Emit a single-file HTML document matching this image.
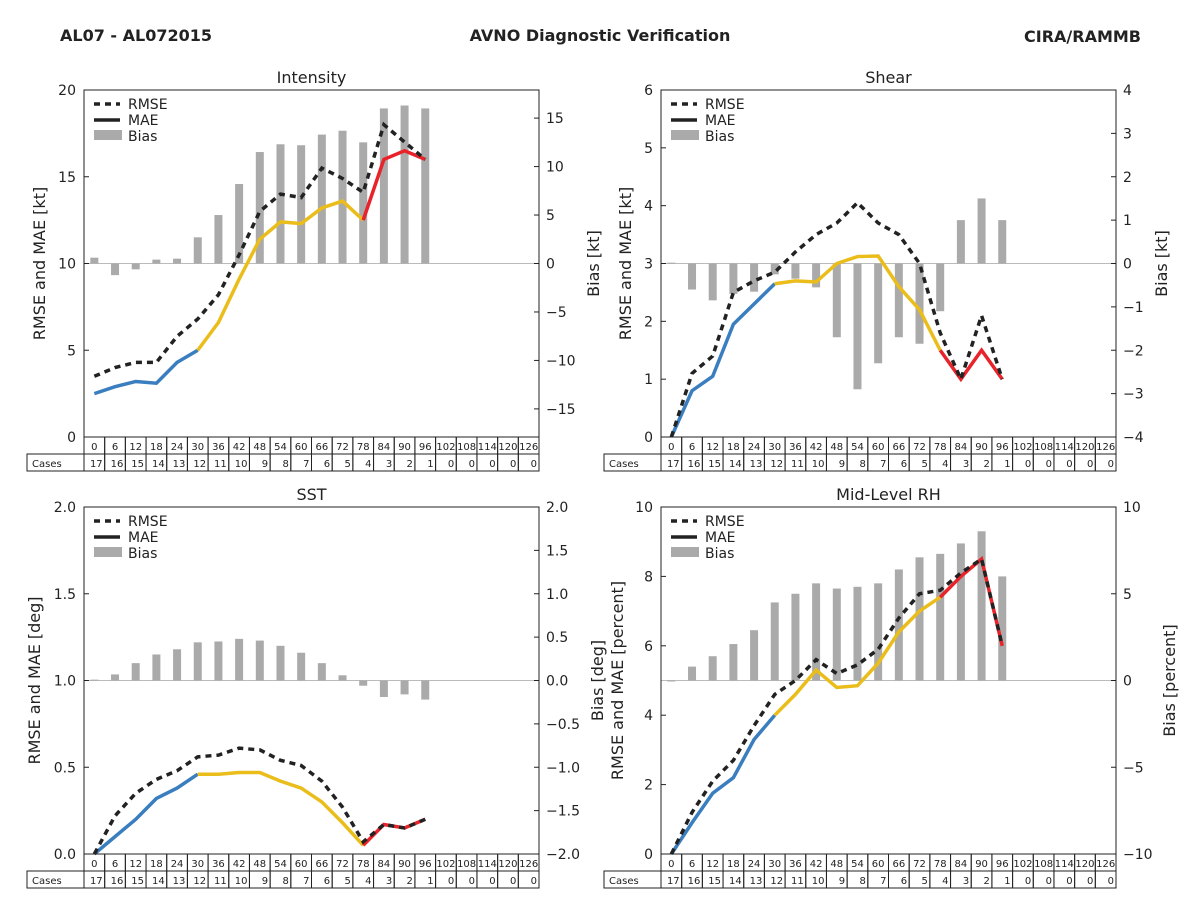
<!DOCTYPE html>
<html><head><meta charset="utf-8"><style>
body{margin:0;background:#fff}
svg{font-family:"DejaVu Sans","Liberation Sans",sans-serif}
</style></head><body>
<svg id="c" width="1200" height="900" viewBox="0 0 1200 900">
<text x="60" y="41" font-size="16" font-weight="bold" fill="#222">AL07 - AL072015</text>
<text x="600" y="41" font-size="16" font-weight="bold" fill="#222" text-anchor="middle">AVNO Diagnostic Verification</text>
<text x="1141" y="42" font-size="16" font-weight="bold" fill="#222" text-anchor="end">CIRA/RAMMB</text>
</svg>
<script>
const hours=[0,6,12,18,24,30,36,42,48,54,60,66,72,78,84,90,96,102,108,114,120,126];
const cases=[17,16,15,14,13,12,11,10,9,8,7,6,5,4,3,2,1,0,0,0,0,0];
const intRmse=[3.5,4.0,4.3,4.3,5.8,6.8,8.2,10.5,13,14,13.8,15.5,14.9,14.1,18,17,16];
const intMae=[2.5,2.9,3.2,3.1,4.3,5.0,6.6,9.1,11.4,12.4,12.3,13.2,13.6,12.5,16,16.5,16];
const intBias=[0.6,-1.2,-0.6,0.4,0.5,2.7,5,8.2,11.5,12.3,12.2,13.3,13.7,12.5,16,16.3,16];
const shRmse=[0,1.1,1.4,2.5,2.7,2.85,3.2,3.5,3.7,4.05,3.7,3.5,3.0,1.8,1.0,2.1,1.0];
const shMae=[0,0.8,1.05,1.95,2.3,2.65,2.7,2.68,3.0,3.12,3.13,2.6,2.2,1.5,1.0,1.5,1.0];
const shBias=[0.02,-0.6,-0.85,-0.7,-0.65,-0.25,-0.35,-0.55,-1.7,-2.9,-2.3,-1.7,-1.85,-1.1,1.0,1.5,1.0];
const sstRmse=[0,0.22,0.35,0.43,0.48,0.56,0.57,0.61,0.60,0.54,0.51,0.42,0.27,0.07,0.17,0.15,0.2];
const sstMae=[0,0.1,0.2,0.32,0.38,0.46,0.46,0.47,0.47,0.42,0.38,0.3,0.18,0.05,0.17,0.15,0.2];
const sstBias=[0.01,0.07,0.2,0.3,0.36,0.44,0.45,0.48,0.46,0.40,0.32,0.2,0.06,-0.06,-0.19,-0.16,-0.22];
const rhRmse=[0,1.2,2.1,2.7,3.7,4.6,5.0,5.6,5.2,5.45,5.9,6.8,7.5,7.6,8.1,8.5,6.0];
const rhMae=[0,0.9,1.75,2.2,3.3,4.0,4.6,5.3,4.8,4.85,5.5,6.4,7.0,7.4,8.0,8.5,6.0];
const rhBias=[0,0.8,1.4,2.1,2.9,4.5,5.0,5.6,5.3,5.4,5.6,6.4,7.1,7.3,7.9,8.6,6.0];
const svg=document.getElementById('c');const NS='http://www.w3.org/2000/svg';
function mk(t,a,p){const e=document.createElementNS(NS,t);for(const k in a)e.setAttribute(k,a[k]);(p||svg).appendChild(e);return e;}
const panels=[
 {t:'Intensity',x0:84,y0:90,lmax:20,lt:[0,5,10,15,20],rmin:-17.9,rmax:17.9,rt:[-15,-10,-5,0,5,10,15],ll:'RMSE and MAE [kt]',rl:'Bias [kt]',r:intRmse,m:intMae,b:intBias,llx:40,rlx:594},
 {t:'Shear',x0:661,y0:90,lmax:6,lt:[0,1,2,3,4,5,6],rmin:-4,rmax:4,rt:[-4,-3,-2,-1,0,1,2,3,4],ll:'RMSE and MAE [kt]',rl:'Bias [kt]',r:shRmse,m:shMae,b:shBias,llx:626,rlx:1162},
 {t:'SST',x0:84,y0:507,lmax:2,lt:[0,0.5,1,1.5,2],rmin:-2,rmax:2,rt:[-2,-1.5,-1,-0.5,0,0.5,1,1.5,2],ll:'RMSE and MAE [deg]',rl:'Bias [deg]',r:sstRmse,m:sstMae,b:sstBias,llx:35,rlx:598,fmt:1},
 {t:'Mid-Level RH',x0:661,y0:507,lmax:10,lt:[0,2,4,6,8,10],rmin:-10,rmax:10,rt:[-10,-5,0,5,10],ll:'RMSE and MAE [percent]',rl:'Bias [percent]',r:rhRmse,m:rhMae,b:rhBias,llx:618,rlx:1170}
];
const W=455,H=347,cw=W/22;
panels.forEach((p,pi)=>{
 const g=mk('g',{});
 
 
 const X=h=>p.x0+(h/6+0.5)*cw, YL=v=>p.y0+H-v/p.lmax*H, YR=v=>p.y0+H-(v-p.rmin)/(p.rmax-p.rmin)*H;
 mk('line',{x1:p.x0,x2:p.x0+W,y1:YR(0),y2:YR(0),stroke:'#bbb','stroke-width':1},g);
 p.b.forEach((v,i)=>{const y1=YR(0),y2=YR(v);
  const r=mk('rect',{x:X(hours[i])-4,y:Math.min(y1,y2),width:8,height:Math.max(1,Math.abs(y2-y1)),fill:'#aaa'},g);
  });
 const pts=a=>a.map((v,i)=>X(hours[i])+','+YL(v)).join(' ');
 const segs=[[0,5,'#3a7ebf'],[5,13,'#eabd1b'],[13,16,'#e8232a']];
 segs.forEach(s=>{const l=mk('polyline',{points:p.m.slice(s[0],s[1]+1).map((v,j)=>X(hours[s[0]+j])+','+YL(v)).join(' '),fill:'none',stroke:s[2],'stroke-width':3.5},g);
  });
 const rl=mk('polyline',{points:pts(p.r),fill:'none',stroke:'#222','stroke-width':3.5,'stroke-dasharray':'6,5'},g);
 
 mk('rect',{x:p.x0,y:p.y0,width:W,height:H,fill:'none',stroke:'#222','stroke-width':1},g);
 const tt=mk('text',{x:p.x0+W/2,y:p.y0-7,'font-size':16,'text-anchor':'middle',fill:'#222'},g);tt.textContent=p.t;
 
 p.lt.forEach(v=>{const y=YL(v);mk('line',{x1:p.x0,x2:p.x0+5,y1:y,y2:y,stroke:'#222'},g);
  const t=mk('text',{x:p.x0-8,y:y+5,'font-size':14,'text-anchor':'end',fill:'#222'},g);t.textContent=p.fmt?v.toFixed(1):v;});
 p.rt.forEach(v=>{const y=YR(v);mk('line',{x1:p.x0+W-5,x2:p.x0+W,y1:y,y2:y,stroke:'#222'},g);
  const t=mk('text',{x:p.x0+W+7,y:y+5,'font-size':14,fill:'#222'},g);t.textContent=(p.fmt?v.toFixed(1):v).toString().replace('-','\u2212');});
 const a1=mk('text',{x:p.llx+5,y:p.y0+H/2,'font-size':16,'text-anchor':'middle',fill:'#222',transform:`rotate(-90 ${p.llx+5} ${p.y0+H/2})`},g);a1.textContent=p.ll;
 
 const a2=mk('text',{x:p.rlx+5,y:p.y0+H/2,'font-size':16,'text-anchor':'middle',fill:'#222',transform:`rotate(-90 ${p.rlx+5} ${p.y0+H/2})`},g);a2.textContent=p.rl;
 
 const lx=p.x0+10,ly=p.y0+14;
 mk('line',{x1:lx,x2:lx+26,y1:ly,y2:ly,stroke:'#222','stroke-width':3.5,'stroke-dasharray':'6,5'},g);
 mk('line',{x1:lx,x2:lx+26,y1:ly+16,y2:ly+16,stroke:'#222','stroke-width':3.5},g);
 mk('rect',{x:lx,y:ly+26,width:28,height:10,fill:'#aaa'},g);
 ['RMSE','MAE','Bias'].forEach((s,i)=>{const t=mk('text',{x:lx+34,y:ly+5+i*16,'font-size':14,fill:'#222'},g);t.textContent=s;
  });
 const ty=p.y0+H;
 mk('rect',{x:p.x0-57,y:ty+17,width:57,height:17,fill:'none',stroke:'#222'},g);
 const ct=mk('text',{x:p.x0-52,y:ty+30,'font-size':10,fill:'#222'},g);ct.textContent='Cases';
 hours.forEach((h,i)=>{const cx=p.x0+i*cw;
  mk('rect',{x:cx,y:ty,width:cw,height:17,fill:'none',stroke:'#222'},g);
  mk('rect',{x:cx,y:ty+17,width:cw,height:17,fill:'none',stroke:'#222'},g);
  const t=mk('text',{x:cx+cw/2,y:ty+13,'font-size':10,'text-anchor':'middle',fill:'#222'},g);t.textContent=h;
  const c=mk('text',{x:cx+cw-2,y:ty+30,'font-size':10,'text-anchor':'end',fill:'#222'},g);c.textContent=cases[i];});
});
</script>
</body></html>
